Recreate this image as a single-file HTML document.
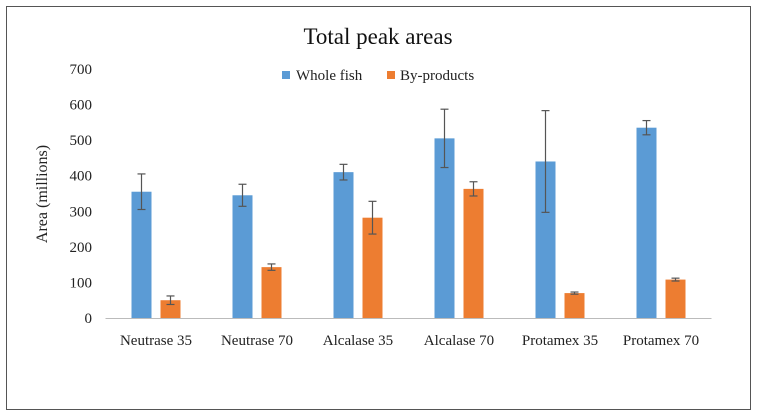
<!DOCTYPE html>
<html><head><meta charset="utf-8"><style>
body{margin:0;background:#fff;}
svg{display:block;font-family:"Liberation Serif",serif;}
</style></head><body>
<svg width="757" height="417">
<rect x="6.5" y="6.5" width="744" height="403" fill="#fff" stroke="#555"/>
<text x="378" y="44" font-size="23" text-anchor="middle" fill="#111">Total peak areas</text>
<g>
<rect x="282" y="71" width="8" height="8" fill="#5b9bd5"/>
<text x="296" y="80" font-size="15" fill="#222">Whole fish</text>
<rect x="387" y="71" width="8" height="8" fill="#ed7d31"/>
<text x="400" y="80" font-size="15" fill="#222">By-products</text>
</g>
<text transform="translate(47,194) rotate(-90)" font-size="16" text-anchor="middle" fill="#222">Area (millions)</text>
<g id="plot"></g>
</svg>
<script>
const categories=["Neutrase 35","Neutrase 70","Alcalase 35","Alcalase 70","Protamex 35","Protamex 70"];
const wholeFish=[355,345,410,505,440,535];
const wholeFishErr=[50,31,22,82,143,20];
const byProducts=[50,143,282,363,70,108];
const byProductsErr=[12,9,46,20,3,4];
const yTicks=[0,100,200,300,400,500,600,700];
const NS="http://www.w3.org/2000/svg";
const g=document.getElementById('plot');
const L=105.5,R=711.5,Y0=318,Y1=69,YMAX=700;
const y=v=>Y0-(v/YMAX)*(Y0-Y1);
const bw=(R-L)/categories.length;
const x=i=>L+bw*(i+0.5);
function mk(t,a){const e=document.createElementNS(NS,t);for(const k in a)e.setAttribute(k,a[k]);g.appendChild(e);return e;}
yTicks.forEach(t=>{
 const e=mk('text',{x:92,y:y(t)+5,'font-size':15,'text-anchor':'end',fill:'#222'});
 e.textContent=t;
 
 
});
const ax=mk('line',{x1:L,x2:R,y1:Y0+0.5,y2:Y0+0.5,stroke:'#bbb','stroke-width':1});


function errBar(cx,v,e){
 [[cx,y(v+e),cx,y(v-e)],[cx-4,y(v+e),cx+4,y(v+e)],[cx-4,y(v-e),cx+4,y(v-e)]].forEach(p=>{
  const l=mk('line',{x1:p[0],y1:p[1],x2:p[2],y2:p[3],stroke:'#555','stroke-width':1.2});
  
  
 });
}
categories.forEach((c,i)=>{
 const cx=x(i);
 const b1=mk('rect',{x:cx-24.5,y:y(wholeFish[i]),width:20,height:Y0-y(wholeFish[i]),fill:'#5b9bd5'});
 
 
 const b2=mk('rect',{x:cx+4.5,y:y(byProducts[i]),width:20,height:Y0-y(byProducts[i]),fill:'#ed7d31'});
 
 
 errBar(cx-14.5,wholeFish[i],wholeFishErr[i]);
 errBar(cx+14.5,byProducts[i],byProductsErr[i]);
 const t=mk('text',{x:cx,y:345,'font-size':15,'text-anchor':'middle',fill:'#222'});
 t.textContent=c;
 
 
});
</script>
</body></html>
